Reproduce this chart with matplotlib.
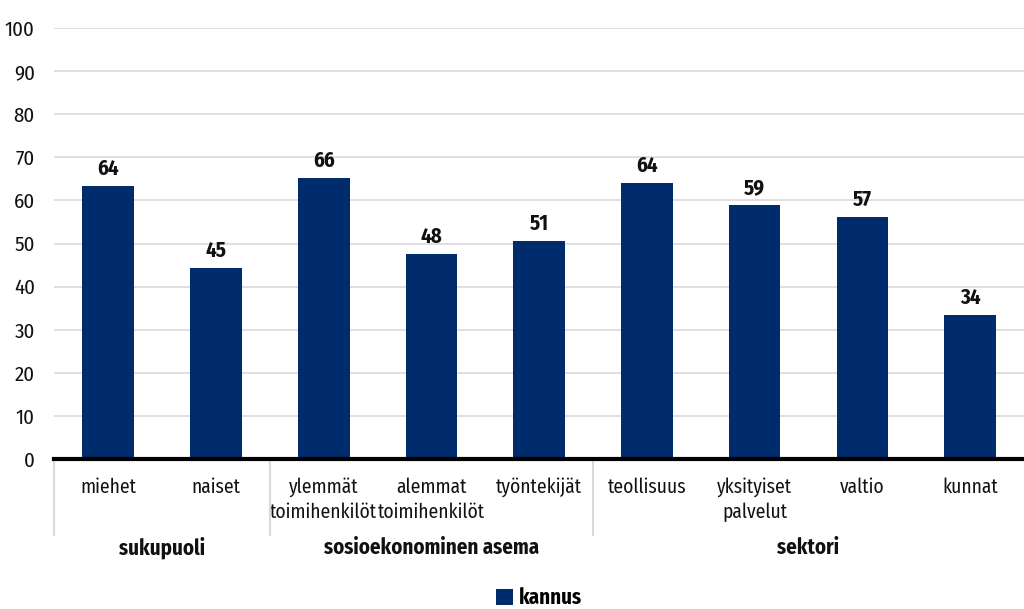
import matplotlib.pyplot as plt
import numpy as np

plt.rcParams['font.family'] = ['Fira Sans Condensed', 'PT Sans Narrow', 'DejaVu Sans']

categories = ["miehet", "naiset", "ylemmät\ntoimihenkilöt", "alemmat\ntoimihenkilöt",
              "työntekijät", "teollisuus", "yksityiset\npalvelut", "valtio", "kunnat"]
values = [63.3, 44.4, 65.2, 47.6, 50.6, 64.0, 58.9, 56.1, 33.4]
value_labels = ["64", "45", "66", "48", "51", "64", "59", "57", "34"]
groups = ["sukupuoli", "sosioekonominen asema", "sektori"]
group_sizes = [2, 3, 4]
series_name = "kannus"

bar_color = "#002b6d"
text_color = "#111111"

fig = plt.figure(figsize=(10.24, 6.09), dpi=100)
ax = fig.add_axes([0.053, 0.246, 0.947, 0.708])

x = np.arange(len(categories))
ax.bar(x, values, width=0.48, color=bar_color, label=series_name, zorder=3)

for xi, v, lab in zip(x, values, value_labels):
    ax.text(xi, v + 1.5, lab, ha="center", va="bottom", fontsize=15,
            fontweight="bold", color=text_color)

ax.set_xlim(-0.5, len(categories) - 0.5)
ax.set_ylim(0, 100)
ax.set_yticks(np.arange(0, 101, 10))
ax.grid(axis="y", color="#d9d9d9", linewidth=1.2, zorder=0)
for s in ["top", "right", "left"]:
    ax.spines[s].set_visible(False)
ax.spines["bottom"].set_linewidth(3)
ax.spines["bottom"].set_color("black")
ax.spines["bottom"].set_zorder(4)
ax.tick_params(axis="y", length=0, labelsize=15, pad=14, colors=text_color)
ax.tick_params(axis="x", length=0, labelsize=14, pad=13, colors=text_color)
ax.set_xticks(x)
ax.set_xticklabels(categories, linespacing=1.35)

# group separators and labels
bounds = [-0.5]
for n in group_sizes:
    bounds.append(bounds[-1] + n)
for b in bounds[:-1]:
    ax.plot([b, b], [0, -17.5], color="#d9d9d9", linewidth=1.5, clip_on=False)
for g, lo, hi in zip(groups, bounds[:-1], bounds[1:]):
    ax.text((lo + hi) / 2, -20.5, g, ha="center", va="center", fontsize=15,
            fontweight="bold", color=text_color)

ax.legend(loc="center", bbox_to_anchor=(0.5, -0.322), frameon=False,
          prop={"size": 15, "weight": "bold"}, handlelength=0.8,
          handleheight=0.8, handletextpad=0.3)

fig.savefig("out.png", dpi=100)
